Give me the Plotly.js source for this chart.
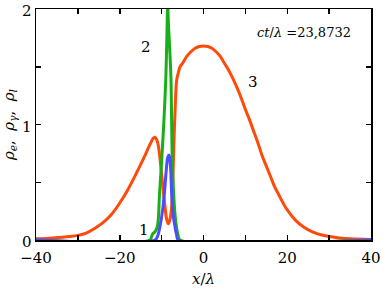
<!DOCTYPE html>
<html>
<head>
<meta charset="utf-8">
<script src="https://cdn.plot.ly/plotly-3.0.1.min.js"></script>
<style>html,body{margin:0;padding:0;background:#fff;}#chart{width:382px;height:288px;}</style>
</head>
<body>
<div id="chart"></div>
<script>
// Curve 3 (orange): rho_l
const x3 = [-40,-36,-32,-30,-28,-26,-24,-22,-20,-18,-16,-14,-13,-12,-11.6,-11,-10.2,-9.6,-9.2,-8.8,-8.4,-8.0,-7.6,-7.3,-7.0,-6.7,-6.4,-6.0,-5.6,-5,-4,-3,-2,-1,0,1,2,3,4,5,6,7,8,9,10,11,12,13,14,15,16,17,18,19,20,22,24,26,28,30,32,35,40];
const y3 = [0.01,0.018,0.03,0.04,0.06,0.1,0.15,0.22,0.32,0.44,0.58,0.73,0.81,0.88,0.89,0.85,0.64,0.42,0.29,0.18,0.14,0.18,0.29,0.55,0.92,1.2,1.385,1.45,1.5,1.53,1.59,1.63,1.66,1.675,1.68,1.675,1.66,1.63,1.59,1.53,1.47,1.40,1.32,1.23,1.13,1.04,0.94,0.84,0.73,0.64,0.55,0.46,0.39,0.32,0.26,0.17,0.11,0.07,0.045,0.03,0.02,0.01,0.005];
// Curve 2 (green): rho_gamma
const x2 = [-40,-12.8,-12.4,-12.0,-11.6,-11.0,-10.5,-10.0,-9.5,-9.0,-8.75,-8.55,-8.35,-8.0,-7.76,-7.6,-7.45,-7.2,-6.8,-6.4,-6.0,-5.6,40];
const y2 = [0,0,0.03,0.06,0.07,0.12,0.4,0.68,1.0,1.4,1.75,2.02,1.85,1.6,1.385,1.0,0.69,0.45,0.22,0.1,0.03,0,0];
// Curve 1 (blue): rho_e
const x1 = [-40,-11.6,-11.0,-10.4,-9.8,-9.35,-8.9,-8.5,-8.2,-7.9,-7.6,-7.2,-6.8,-6.4,-6.0,40];
const y1 = [0,0,0.03,0.115,0.25,0.4,0.6,0.72,0.735,0.65,0.4,0.2,0.115,0.04,0,0];

const xTicks = [-40,-20,0,20,40];
const xTickText = ['\u221240','\u221220','0','20','40'];
const yTicks = [0,1,2];

const font = 'DejaVu Serif';

const traces = [
  {x:x3, y:y3, mode:'lines', line:{color:'#ff4a0a', width:3, shape:'spline'}, hoverinfo:'skip'},
  {x:x2, y:y2, mode:'lines', line:{color:'#18b018', width:3, shape:'spline'}, hoverinfo:'skip'},
  {x:x1, y:y1, mode:'lines', line:{color:'#4d4dff', width:3, shape:'spline'}, hoverinfo:'skip'}
];

const axisCommon = {
  showgrid:false, zeroline:false, showline:true, linecolor:'#000', linewidth:1.5,
  mirror:'ticks', ticks:'inside', ticklen:5, tickwidth:1.5, tickcolor:'#000',
  tickfont:{family:font, size:15, color:'#000'}
};

const layout = {
  width:382, height:288,
  margin:{l:36, r:11, t:9, b:48},
  paper_bgcolor:'#fff', plot_bgcolor:'#fff',
  font:{family:font, size:15, color:'#000'},
  showlegend:false,
  xaxis: Object.assign({}, axisCommon, {
    range:[-40,40], tickvals:xTicks, ticktext:xTickText, ticklabelstandoff:3,
    minor:{ticks:'inside', dtick:10, tick0:0, ticklen:5, tickwidth:1.5, tickcolor:'#000'},
    title:{text:'<i>x</i>/<i>λ</i>', font:{family:font, size:15, color:'#000'}, standoff:8}
  }),
  yaxis: Object.assign({}, axisCommon, {
    range:[0,2], tickvals:yTicks, ticktext:yTicks.map(String), ticklabelshift:2,
    minor:{ticks:'inside', dtick:0.5, tick0:0, ticklen:5, tickwidth:1.5, tickcolor:'#000'},
    title:{text:'<i>ρ<sub>e</sub></i>,  <i>ρ<sub>γ</sub></i>,  <i>ρ<sub>l</sub></i>', font:{family:font, size:15, color:'#000'}, standoff:4}
  }),
  annotations:[
    {x:-14.2, y:0.09, xref:'x', yref:'y', text:'1', showarrow:false, font:{family:font, size:15, color:'#000'}},
    {x:-13.8, y:1.67, xref:'x', yref:'y', text:'2', showarrow:false, font:{family:font, size:15, color:'#000'}},
    {x:11.9, y:1.37, xref:'x', yref:'y', text:'3', showarrow:false, font:{family:font, size:15, color:'#000'}},
    {x:0.655, y:1.80, xref:'paper', yref:'y', xanchor:'left', text:'<i>ct</i>/<i>λ</i> =23,8732', showarrow:false, font:{family:font, size:13, color:'#000'}}
  ]
};

Plotly.newPlot('chart', traces, layout, {staticPlot:true, displayModeBar:false});
</script>
</body>
</html>
